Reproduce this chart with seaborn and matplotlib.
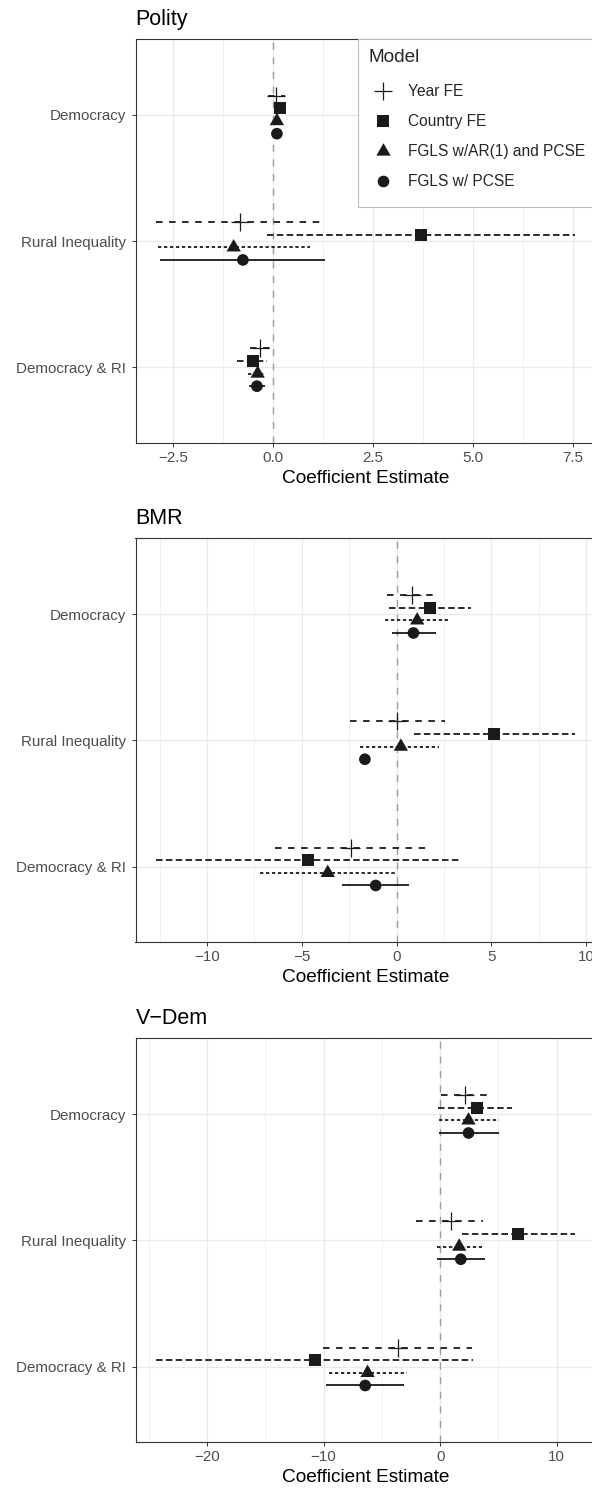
import matplotlib
matplotlib.use("Agg")
import matplotlib.pyplot as plt
from matplotlib.lines import Line2D
from matplotlib.ticker import MultipleLocator
import numpy as np
import pandas as pd
import seaborn as sns

# ---------------- data ----------------
terms = ["Democracy", "Rural Inequality", "Democracy & RI"]
models = ["Year FE", "Country FE", "FGLS w/AR(1) and PCSE", "FGLS w/ PCSE"]
panel_titles = ["Polity", "BMR", "V\u2212Dem"]

# rows = terms, columns = models
polity_est = [[0.07, 0.18, 0.10, 0.10],
              [-0.82, 3.70, -0.98, -0.75],
              [-0.32, -0.50, -0.38, -0.40]]
polity_lo = [[-0.12, 0.08, 0.02, 0.03],
             [-2.91, -0.15, -2.88, -2.82],
             [-0.57, -0.90, -0.61, -0.59]]
polity_hi = [[0.31, 0.28, 0.18, 0.17],
             [1.27, 7.55, 0.92, 1.31],
             [-0.07, -0.15, -0.17, -0.19]]

bmr_est = [[0.84, 1.79, 1.09, 0.89],
           [0.04, 5.14, 0.23, -1.67],
           [-2.40, -4.65, -3.63, -1.10]]
bmr_lo = [[-0.49, -0.42, -0.61, -0.25],
          [-2.46, 0.93, -1.93, -1.85],
          [-6.40, -12.67, -7.23, -2.88]]
bmr_hi = [[2.14, 3.95, 2.72, 2.07],
          [2.54, 9.42, 2.25, -1.50],
          [1.63, 3.33, 0.00, 0.67]]

vdem_est = [[2.09, 3.14, 2.43, 2.43],
            [0.94, 6.71, 1.63, 1.77],
            [-3.63, -10.77, -6.23, -6.43]]
vdem_lo = [[0.09, -0.23, -0.14, -0.14],
           [-2.06, 1.86, -0.29, -0.29],
           [-10.06, -24.34, -9.54, -9.77]]
vdem_hi = [[4.00, 6.14, 5.06, 5.06],
           [3.66, 11.57, 3.57, 3.86],
           [2.71, 2.80, -2.86, -3.09]]

major_steps = [2.5, 5, 10]

# ---------------- style ----------------
sns.set_style("white")
plt.rcParams["font.family"] = ["Liberation Sans", "DejaVu Sans"]
plt.rcParams["lines.scale_dashes"] = False

INK = "#1A1A1A"
tri = [(0, 1.555), (1.347, -0.778), (-1.347, -0.778)]
marker_of = {models[0]: "+", models[1]: "s", models[2]: tri, models[3]: "o"}
size_of = {models[0]: 13.0, models[1]: 8.6, models[2]: 11.9, models[3]: 8.4}
dash_of = {models[0]: (0, (4.7, 4.7)), models[1]: (0, (4.7, 2.4)),
           models[2]: (0, (2.4, 1.9)), models[3]: "solid"}
offset_of = {models[0]: -0.15, models[1]: -0.05, models[2]: 0.05, models[3]: 0.15}

panels = [(polity_est, polity_lo, polity_hi),
          (bmr_est, bmr_lo, bmr_hi),
          (vdem_est, vdem_lo, vdem_hi)]

W, H = 592, 1490
fig = plt.figure(figsize=(W / 100, H / 100), dpi=100)

left_px, right_px = 135.5, 596.0
tops_px = [39.0, 538.3, 1038.3]
ph = 404.0

AX_FS = 10.9
LEG_FS = 11.2
LEG_PX = LEG_FS * 100 / 72
for p, ((est, lo, hi), title, step) in enumerate(zip(panels, panel_titles, major_steps)):
    top = tops_px[p]
    ax = fig.add_axes([left_px / W, 1 - (top + ph) / H, (right_px - left_px) / W, ph / H])
    rows = []
    for ti, term in enumerate(terms):
        for mi, model in enumerate(models):
            rows.append(dict(term=term, model=model, est=est[ti][mi], lo=lo[ti][mi],
                             hi=hi[ti][mi], y=ti + offset_of[model]))
    df = pd.DataFrame(rows)

    ax.set_axisbelow(True)
    ax.xaxis.set_major_locator(MultipleLocator(step))
    ax.xaxis.set_minor_locator(MultipleLocator(step / 2))
    ax.grid(which="major", color="#EBEBEB", lw=1.0)
    ax.grid(which="minor", axis="x", color="#EBEBEB", lw=0.5)

    ax.axvline(0, color="#9E9E9E", lw=1.0, ls=(0, (5.0, 5.5)), zorder=1.5)

    for model in models:
        sub = df[df["model"] == model]
        ax.hlines(sub["y"], sub["lo"], sub["hi"], colors=INK, linewidth=1.3,
                  linestyles=[dash_of[model]], zorder=2)
    for model in models:
        sub = df[df["model"] == model]
        mk = marker_of[model]
        if mk == "+":
            sns.scatterplot(data=sub, x="est", y="y", marker=mk, s=size_of[model] ** 2,
                            color=INK, linewidth=0.9, ax=ax, legend=False, zorder=3)
        else:
            sns.scatterplot(data=sub, x="est", y="y", marker=mk, s=size_of[model] ** 2,
                            color=INK, linewidth=0, edgecolor="none", ax=ax,
                            legend=False, zorder=3)

    vals = np.concatenate([df["lo"], df["hi"], df["est"]])
    span = vals.max() - vals.min()
    ax.set_xlim(vals.min() - 0.05 * span, vals.max() + 0.05 * span)
    ax.set_ylim(2.6, -0.6)
    ax.set_yticks(range(len(terms)))
    ax.set_yticklabels(terms)

    for s in ax.spines.values():
        s.set_color("#333333")
        s.set_linewidth(0.8)
    ax.tick_params(axis="both", which="major", length=2.9, width=0.7, color="#333333",
                   labelcolor="#4D4D4D", labelsize=AX_FS, bottom=True, left=True)
    ax.tick_params(axis="x", which="major", pad=2.9)
    ax.tick_params(axis="y", which="major", pad=4.2)
    ax.tick_params(which="minor", length=0)
    ax.set_xlabel("Coefficient Estimate", fontsize=13.65, color="black", labelpad=3.2)
    ax.set_ylabel("")
    ax.set_title(title, loc="left", fontsize=15.5, color="black", pad=10)

    if p == 0:
        handles = []
        for model in models:
            mk = marker_of[model]
            handles.append(Line2D([], [], linestyle="none", marker=mk, color=INK,
                                  markersize=size_of[model],
                                  markeredgewidth=0.9 if mk == "+" else 0))
        leg = ax.legend(handles, models, title="Model", loc="upper right",
                        bbox_to_anchor=(1, 1), borderaxespad=0, fontsize=LEG_FS,
                        title_fontsize=13.65, frameon=True, fancybox=False,
                        edgecolor="#BDBDBD", framealpha=1,
                        borderpad=10.5 / LEG_PX, handlelength=27.4 / LEG_PX,
                        handletextpad=12.0 / LEG_PX, labelspacing=0.0,
                        handleheight=2.59, alignment="left")
        leg._legend_box.sep = 10.0 * 0.72
        # centre the legend keys on the label text
        for lh in leg.legend_handles:
            yd = np.asarray(lh.get_ydata(), dtype=float)
            lh.set_ydata(np.full_like(yd, 0.36 * LEG_FS))
        leg.get_frame().set_linewidth(0.8)
        leg.set_zorder(10)

fig.savefig("out.png", dpi=100)
